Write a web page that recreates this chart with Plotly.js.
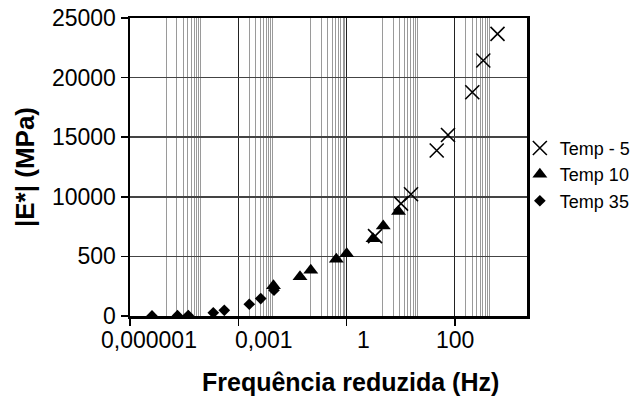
<!DOCTYPE html>
<html>
<head>
<meta charset="utf-8">
<script src="https://cdn.plot.ly/plotly-3.0.1.min.js"></script>
<style>html,body{margin:0;padding:0;background:#fff;}#chart{width:635px;height:398px;}</style>
</head>
<body>
<div id="chart"></div>
<script>
// Data (reduced frequency in Hz, |E*| in MPa)
const seriesNames = ["Temp - 5", "Temp 10", "Temp 35"];
const freqTm5 = [0.615, 3.23, 6.11, 31.5, 64.7, 305, 615, 1524];
const modTm5  = [6700, 9430, 10210, 13880, 15185, 18770, 21430, 23670];
const freqT10 = [0.000946, 0.00513, 0.0102, 0.052, 0.101, 0.541, 1.04, 2.75];
const modT10  = [2540, 3290, 3840, 4765, 5230, 6490, 7540, 8760];
const freqT35 = [4.07e-7, 2.07e-6, 4.12e-6, 2.03e-5, 4.10e-5, 2.02e-4, 4.19e-4, 9.77e-4];
const modT35  = [10, 30, 40, 270, 480, 985, 1465, 2160];

const yTickVals = [0, 5000, 10000, 15000, 20000, 25000];
const yTickText = ["0", "500", "10000", "15000", "20000", "25000"];
const xMajorVals = [1e-7, 1e-4, 0.1, 100];
const xLabelText = ["0,000001", "0,001", "1", "100"];
const minorDecades = [-6, -4, -2, 0, 2];

const FONT = "'Liberation Sans', Arial, Helvetica, sans-serif";

const minorVals = [];
minorDecades.forEach(e => { for (let k = 1; k <= 9; k++) minorVals.push(k * Math.pow(10, e)); });

const traces = [
  {x: freqTm5, y: modTm5, name: seriesNames[0], type: "scatter", mode: "markers",
   marker: {symbol: "x-thin", size: 14, color: "#000", line: {color: "#000", width: 1.6}}},
  {x: freqT10, y: modT10, name: seriesNames[1], type: "scatter", mode: "markers",
   marker: {symbol: "triangle-up", size: 13, color: "#000"}},
  {x: freqT35, y: modT35, name: seriesNames[2], type: "scatter", mode: "markers",
   marker: {symbol: "diamond", size: 9, color: "#000"}}
];

// positions of the x tick labels (log10 units) as they appear in the reference
const xLabelPos = [-6.46, -3.30, -0.544, 2.013];
const annotations = xLabelText.map((t, i) => ({
  text: t, xref: "x", yref: "paper", x: xLabelPos[i], y: -0.082,
  xanchor: "center", yanchor: "middle", showarrow: false,
  font: {family: FONT, size: 23, color: "#000"}
}));
annotations.push({
  text: "<b>Frequência reduzida (Hz)</b>", xref: "paper", yref: "paper",
  x: 0.555, y: -0.22, xanchor: "center", yanchor: "middle", showarrow: false,
  font: {family: FONT, size: 25, color: "#000"}
});

const layout = {
  width: 635, height: 398,
  margin: {l: 130, r: 108, t: 18, b: 82, pad: 0, autoexpand: false},
  paper_bgcolor: "#fff", plot_bgcolor: "#fff",
  font: {family: FONT, color: "#000"},
  showlegend: true,
  legend: {x: 0.982, xanchor: "left", y: 0.625, yanchor: "top",
           font: {family: FONT, size: 18, color: "#000"}, bgcolor: "rgba(0,0,0,0)",
           tracegroupgap: 0},
  xaxis: {
    type: "log", range: [-7, 4], tickmode: "array", tickvals: xMajorVals,
    ticktext: xMajorVals.map(() => ""), ticks: "outside", ticklen: 7, tickwidth: 1.5, tickcolor: "#000",
    showgrid: true, gridcolor: "#222", gridwidth: 1.2,
    minor: {tickmode: "array", tickvals: minorVals, showgrid: true, gridcolor: "#9a9a9a", gridwidth: 1, ticks: ""},
    showline: true, linecolor: "#000", linewidth: 2.5, mirror: true, zeroline: false
  },
  yaxis: {
    range: [0, 25000], tickmode: "array", tickvals: yTickVals, ticktext: yTickText,
    ticks: "outside", ticklen: 7, tickwidth: 1.5, tickcolor: "#000",
    tickfont: {family: FONT, size: 23, color: "#000"},
    showgrid: true, gridcolor: "#444", gridwidth: 1.5,
    showline: true, linecolor: "#000", linewidth: 2.5, mirror: true, zeroline: false,
    title: {text: "<b>|E*| (MPa)</b>", font: {family: FONT, size: 26, color: "#000"}, standoff: 10}
  },
  annotations: annotations
};

Plotly.newPlot("chart", traces, layout, {displayModeBar: false, staticPlot: true});
</script>
</body>
</html>
